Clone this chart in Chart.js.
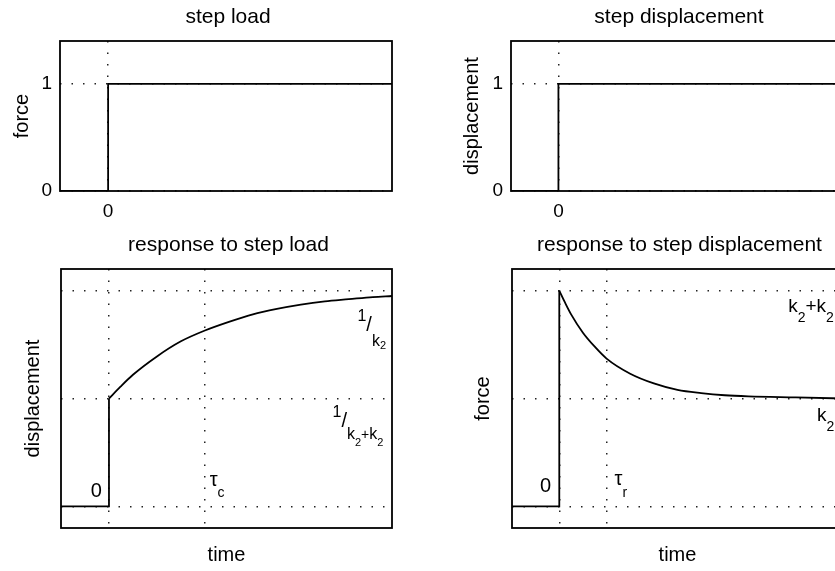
<!DOCTYPE html>
<html>
<head>
<meta charset="utf-8">
<script src="https://cdn.jsdelivr.net/npm/chart.js@4.4.1/dist/chart.umd.min.js"></script>
<style>
  html, body { margin: 0; padding: 0; background: #fff; overflow: hidden; }
  body { width: 835px; height: 571px; position: relative; }
  canvas { position: absolute; }
</style>
</head>
<body>
<canvas id="stepLoad" width="417" height="240" style="left:0;top:0"></canvas>
<canvas id="stepDisp" width="440" height="240" style="left:418px;top:0"></canvas>
<canvas id="creep" width="417" height="343" style="left:0;top:228px"></canvas>
<canvas id="relax" width="440" height="343" style="left:418px;top:228px"></canvas>
<script>
// values (time in units of tau)
const loadTime  = [-0.5, 0, 0, 2.95];
const loadForce = [0, 0, 1, 1];
const dispTime  = [-1, 0, 0, 6];
const dispValue = [0, 0, 1, 1];

const creepJumpTime = [-0.5, 0, 0];
const creepJumpVal  = [0, 0, 1];
const creepTime = [0, 0.12, 0.25, 0.5, 0.75, 1, 1.25, 1.5, 1.75, 2, 2.25, 2.5, 2.75, 2.95];
const creepVal  = [1, 1.11, 1.22, 1.39, 1.53, 1.63, 1.71, 1.78, 1.83, 1.87, 1.9, 1.92, 1.94, 1.95];

const relaxJumpTime = [-1, 0, 0];
const relaxJumpVal  = [0, 0, 2];
const relaxTime = [0, 0.12, 0.25, 0.5, 0.75, 1, 1.5, 2, 2.5, 3, 3.5, 4, 5, 6];
const relaxVal  = [2, 1.89, 1.78, 1.61, 1.48, 1.37, 1.23, 1.14, 1.08, 1.05, 1.03, 1.02, 1.01, 1.0];

const stepXTicks = [0];
const stepYTicks = [0, 1];
const respXTicks = [0, 1];      // 0 and tau
const respYTicks = [0, 1, 2];   // 0, 1/(k1+k2), 1/k2

const FONT = '"Liberation Sans", Arial, Helvetica, sans-serif';
Chart.defaults.font.family = FONT;
Chart.defaults.color = '#000';

// frame, title and the little formula labels
function sheet(title, notes) {
  return {
    id: 'sheet',
    afterDatasetsDraw(chart) {
      const { ctx, chartArea: a, scales } = chart;
      ctx.save();
      ctx.strokeStyle = '#000';
      ctx.lineWidth = 1.8;
      ctx.strokeRect(a.left, a.top, a.right - a.left, a.bottom - a.top);
      ctx.fillStyle = '#000';
      ctx.font = '21px ' + FONT;
      ctx.textAlign = 'center';
      ctx.textBaseline = 'middle';
      ctx.fillText(title, (a.left + a.right) / 2 + 2, a.top - 24);
      ctx.textAlign = 'left';
      ctx.textBaseline = 'alphabetic';
      notes.forEach(n => {
        let x = scales.x.getPixelForValue(n.x);
        const y = scales.y.getPixelForValue(n.y);
        n.parts.forEach(([txt, size, dy]) => {
          ctx.font = size + 'px ' + FONT;
          ctx.fillText(txt, x, y + dy);
          x += ctx.measureText(txt).width;
        });
      });
      ctx.restore();
    }
  };
}

function plot(id, o) {
  new Chart(document.getElementById(id), {
    type: 'line',
    data: {
      datasets: o.series.map(s => ({
        data: s.t.map((t, i) => ({ x: t, y: s.v[i] })),
        borderColor: '#000', borderWidth: 1.8, pointRadius: 0, fill: false,
        cubicInterpolationMode: s.smooth ? 'monotone' : 'default',
        tension: s.smooth ? 0.4 : 0
      }))
    },
    options: {
      responsive: false, animation: false, events: [],
      layout: { padding: { top: 41, right: o.padRight, left: 0, bottom: 0 } },
      plugins: { legend: { display: false }, tooltip: { enabled: false } },
      scales: {
        x: {
          type: 'linear', min: o.xMin, max: o.xMax,
          afterBuildTicks: s => { s.ticks = o.xTicks.map(v => ({ value: v })); },
          afterFit: s => { s.height = o.xHeight; },
          grid: { color: '#222', lineWidth: 1.5, drawTicks: false },
          border: { display: false, dash: [1.5, 10] },
          ticks: { display: o.showTicks, padding: 9, font: { size: 19 }, callback: v => String(v) },
          title: { display: !!o.xTitle, text: o.xTitle || '', font: { size: 20 }, padding: { top: 0, bottom: 4 } }
        },
        y: {
          type: 'linear', min: o.yMin, max: o.yMax,
          afterBuildTicks: s => { s.ticks = o.yTicks.map(v => ({ value: v })); },
          afterFit: s => { s.width = o.yWidth; },
          grid: { color: '#222', lineWidth: 1.5, drawTicks: false },
          border: { display: false, dash: [1.5, 10] },
          ticks: { display: o.showTicks, padding: 8, font: { size: 19 }, callback: v => String(v) },
          title: { display: true, text: o.yTitle, font: { size: 20 }, padding: { top: o.yTitlePad, bottom: 0 } }
        }
      }
    },
    plugins: [sheet(o.title, o.notes)]
  });
}

plot('stepLoad', {
  title: 'step load', yTitle: 'force', yTitlePad: 10,
  series: [{ t: loadTime, v: loadForce }],
  xMin: -0.5, xMax: 2.95, yMin: 0, yMax: 1.4,
  xTicks: stepXTicks, yTicks: stepYTicks, showTicks: true,
  yWidth: 60, xHeight: 49, padRight: 25, notes: []
});

plot('stepDisp', {
  title: 'step displacement', yTitle: 'displacement', yTitlePad: 42,
  series: [{ t: dispTime, v: dispValue }],
  xMin: -1, xMax: 6, yMin: 0, yMax: 1.4,
  xTicks: stepXTicks, yTicks: stepYTicks, showTicks: true,
  yWidth: 93, xHeight: 49, padRight: 15, notes: []
});

plot('creep', {
  title: 'response to step load', yTitle: 'displacement', yTitlePad: 21, xTitle: 'time',
  series: [{ t: creepJumpTime, v: creepJumpVal }, { t: creepTime, v: creepVal, smooth: true }],
  xMin: -0.5, xMax: 2.95, yMin: -0.2, yMax: 2.2,
  xTicks: respXTicks, yTicks: respYTicks, showTicks: false,
  yWidth: 61, xHeight: 43, padRight: 25,
  notes: [
    { x: -0.19, y: 0.09, parts: [['0', 20, 0]] },
    { x: 1.05, y: 0.19, parts: [['τ', 20, 0], ['c', 14, 11]] },
    { x: 2.59, y: 1.72, parts: [['1', 16, 0], ['/', 20, 10], ['k', 16, 25], ['2', 11, 28]] },
    { x: 2.33, y: 0.83, parts: [['1', 16, 0], ['/', 20, 10], ['k', 16, 22], ['2', 11, 29],
                                ['+', 14, 22], ['k', 16, 22], ['2', 11, 29]] }
  ]
});

plot('relax', {
  title: 'response to step displacement', yTitle: 'force', yTitlePad: 53, xTitle: 'time',
  series: [{ t: relaxJumpTime, v: relaxJumpVal }, { t: relaxTime, v: relaxVal, smooth: true }],
  xMin: -1, xMax: 6, yMin: -0.2, yMax: 2.2,
  xTicks: respXTicks, yTicks: respYTicks, showTicks: false,
  yWidth: 94, xHeight: 43, padRight: 15,
  notes: [
    { x: -0.41, y: 0.13, parts: [['0', 20, 0]] },
    { x: 1.17, y: 0.2, parts: [['τ', 20, 0], ['r', 14, 12]] },
    { x: 4.84, y: 1.8, parts: [['k', 19, 0], ['2', 14, 10], ['+', 19, 0], ['k', 19, 0], ['2', 14, 10]] },
    { x: 5.45, y: 0.79, parts: [['k', 19, 0], ['2', 14, 10]] }
  ]
});
</script>
</body>
</html>
